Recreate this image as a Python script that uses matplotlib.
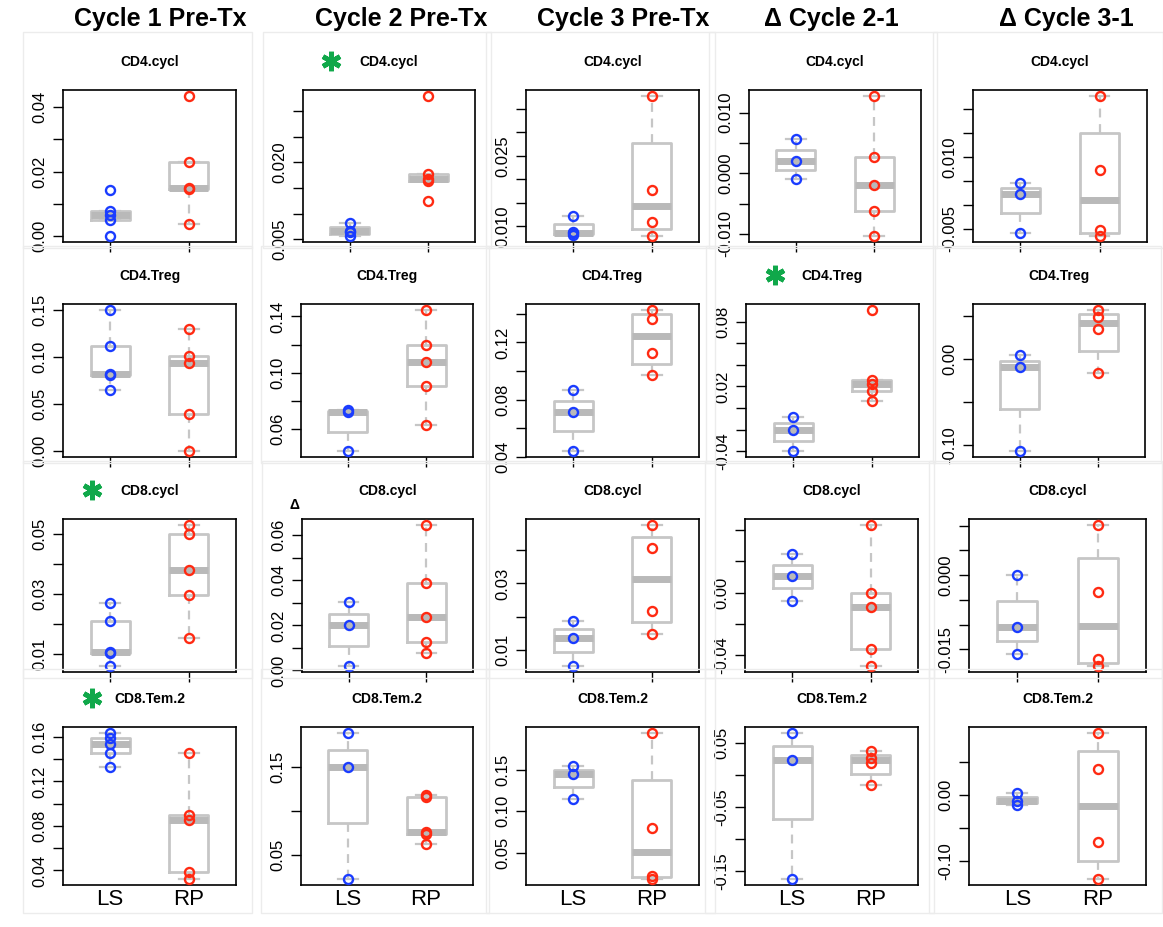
import numpy as np
import matplotlib
matplotlib.use("Agg")
import matplotlib.pyplot as plt
from matplotlib.lines import Line2D
from matplotlib.patches import Rectangle

plt.rcParams['font.family'] = ['Liberation Sans', 'DejaVu Sans']

# Datos: una lista por columna, una entrada por fila
COLUMNAS = ["Cycle 1 Pre-Tx", "Cycle 2 Pre-Tx", "Cycle 3 Pre-Tx", "Δ Cycle 2-1", "Δ Cycle 3-1"]
FILAS = ["CD4.cycl", "CD4.Treg", "CD8.cycl", "CD8.Tem.2"]
GRUPOS = ["LS", "RP"]

LS_C1 = [[0.0, 0.0051, 0.0066, 0.0077, 0.0142],
         [0.0649, 0.0806, 0.0819, 0.111, 0.150],
         [0.0059, 0.0102, 0.0107, 0.0209, 0.0271],
         [0.1333, 0.1453, 0.1536, 0.159, 0.1637]]
RP_C1 = [[0.0037, 0.0146, 0.0148, 0.023, 0.0435],
         [0.0, 0.040, 0.094, 0.101, 0.129],
         [0.0152, 0.0296, 0.038, 0.050, 0.053],
         [0.0322, 0.0386, 0.0855, 0.090, 0.1453]]

LS_C2 = [[0.0056, 0.0064, 0.0067, 0.0083],
         [0.0443, 0.0724, 0.0735],
         [0.0018, 0.020, 0.0302],
         [0.0226, 0.150, 0.189]]
RP_C2 = [[0.0124, 0.0164, 0.0168, 0.0177, 0.033],
         [0.0629, 0.0909, 0.108, 0.1196, 0.1448],
         [0.0075, 0.0126, 0.0239, 0.0388, 0.0647],
         [0.063, 0.074, 0.076, 0.116, 0.118]]

LS_C3 = [[0.0082, 0.0086, 0.0088, 0.0123],
         [0.0442, 0.0716, 0.0865],
         [0.0052, 0.0136, 0.0189],
         [0.115, 0.145, 0.155]]
RP_C3 = [[0.0079, 0.0109, 0.0177, 0.0378],
         [0.0976, 0.1128, 0.1364, 0.1429],
         [0.0148, 0.0219, 0.0405, 0.0476],
         [0.018, 0.022, 0.080, 0.195]]

LS_C4 = [[-0.0009, 0.0020, 0.0057],
         [-0.040, -0.020, -0.008],
         [-0.0051, 0.0108, 0.0248],
         [-0.163, 0.024, 0.066]]
RP_C4 = [[-0.0104, -0.0063, -0.0020, 0.0027, 0.0128],
         [0.007, 0.016, 0.0225, 0.026, 0.091],
         [-0.047, -0.0362, -0.0095, -0.0006, 0.0432],
         [-0.016, 0.019, 0.027, 0.037]]

LS_C5 = [[-0.0059, 0.0023, 0.0046],
         [-0.1078, -0.0093, 0.0047],
         [-0.016, -0.0104, 0.0],
         [-0.015, -0.009, 0.002]]
RP_C5 = [[-0.0066, -0.0053, 0.0074, 0.0229],
         [-0.0164, 0.0354, 0.0486, 0.0576],
         [-0.0184, -0.017, -0.0034, 0.0102],
         [-0.128, -0.072, 0.039, 0.094]]

# Marcas del eje y (etiqueta vacia = marca sin texto, como en R)
TICKS_C1 = [[0, 0.01, 0.02, 0.03, 0.04], [0, 0.05, 0.10, 0.15],
            [0.01, 0.02, 0.03, 0.04, 0.05], [0.04, 0.06, 0.08, 0.10, 0.12, 0.14, 0.16]]
LABELS_C1 = [["0.00", "", "0.02", "", "0.04"], ["0.00", "0.05", "0.10", "0.15"],
             ["0.01", "", "0.03", "", "0.05"], ["0.04", "", "0.08", "", "0.12", "", "0.16"]]
TICKS_C2 = [[0.005, 0.010, 0.015, 0.020, 0.025, 0.030], [0.06, 0.08, 0.10, 0.12, 0.14],
            [0, 0.01, 0.02, 0.03, 0.04, 0.05, 0.06], [0.05, 0.10, 0.15]]
LABELS_C2 = [["0.005", "", "", "0.020", "", ""], ["0.06", "", "0.10", "", "0.14"],
             ["0.00", "", "0.02", "", "0.04", "", "0.06"], ["0.05", "", "0.15"]]
TICKS_C3 = [[0.010, 0.015, 0.020, 0.025, 0.030, 0.035], [0.04, 0.06, 0.08, 0.10, 0.12, 0.14],
            [0.01, 0.02, 0.03, 0.04], [0.05, 0.10, 0.15]]
LABELS_C3 = [["0.010", "", "", "0.025", "", ""], ["0.04", "", "0.08", "", "0.12", ""],
             ["0.01", "", "0.03", ""], ["0.05", "0.10", "0.15"]]
TICKS_C4 = [[-0.010, -0.005, 0, 0.005, 0.010], [-0.04, -0.02, 0, 0.02, 0.04, 0.06, 0.08],
            [-0.04, -0.02, 0, 0.02, 0.04], [-0.15, -0.10, -0.05, 0, 0.05]]
LABELS_C4 = [["-0.010", "", "0.000", "", "0.010"], ["-0.04", "", "", "0.02", "", "", "0.08"],
             ["-0.04", "", "0.00", "", ""], ["-0.15", "", "-0.05", "", "0.05"]]
TICKS_C5 = [[-0.005, 0, 0.005, 0.010, 0.015, 0.020], [-0.10, -0.05, 0, 0.05],
            [-0.015, -0.010, -0.005, 0, 0.005, 0.010], [-0.10, -0.05, 0, 0.05]]
LABELS_C5 = [["-0.005", "", "", "0.010", "", ""], ["-0.10", "", "0.00", ""],
             ["-0.015", "", "", "0.000", "", ""], ["-0.10", "", "0.00", ""]]

# Paneles con asterisco verde (fila, columna)
SIGNIFICATIVOS = [(0, 1), (1, 3), (2, 0), (3, 0)]

LS_COLS = [LS_C1, LS_C2, LS_C3, LS_C4, LS_C5]
RP_COLS = [RP_C1, RP_C2, RP_C3, RP_C4, RP_C5]
TICK_COLS = [TICKS_C1, TICKS_C2, TICKS_C3, TICKS_C4, TICKS_C5]
LABEL_COLS = [LABELS_C1, LABELS_C2, LABELS_C3, LABELS_C4, LABELS_C5]

# Posicion de las cajas de ejes en pixeles (izq, der) y (arriba, abajo)
W, H = 1163, 927
X_EJES = [[(63, 236), (303, 475), (526, 699), (749, 921), (973, 1147)],
          [(63, 236), (301, 473), (526, 699), (746, 919), (973, 1145)],
          [(63, 236), (302, 473), (526, 699), (745, 918), (969, 1146)],
          [(63, 236), (301, 473), (526, 699), (745, 918), (969, 1146)]]
Y_EJES = [(90, 242), (304, 457), (519, 672), (727, 885)]
X_TITULOS = [160, 401, 623, 831, 1066]

GRIS = "#c6c6c6"
AZUL = "#1a3cff"
ROJO = "#ff2a12"
VERDE = "#10a84a"


def fivenum(x):
    # cuartiles de Tukey, igual que boxplot() de R
    x = np.sort(np.asarray(x, dtype=float))
    n = len(x)
    n4 = np.floor((n + 3) / 2) / 2
    d = np.array([1, n4, (n + 1) / 2, n + 1 - n4, n]) - 1
    return 0.5 * (x[np.floor(d).astype(int)] + x[np.ceil(d).astype(int)])


def stats_caja(x):
    x = np.asarray(x, dtype=float)
    f = fivenum(x)
    iqr = f[3] - f[1]
    dentro = x[(x >= f[1] - 1.5 * iqr) & (x <= f[3] + 1.5 * iqr)]
    return dict(med=f[2], q1=f[1], q3=f[3], whislo=dentro.min(), whishi=dentro.max(), fliers=[])


def px_a_fig(x0, x1, y0, y1):
    return [x0 / W, 1 - y1 / H, (x1 - x0) / W, (y1 - y0) / H]


fig = plt.figure(figsize=(W / 100, H / 100), dpi=100)

# Titulos de columna
for j, titulo in enumerate(COLUMNAS):
    fig.text(X_TITULOS[j] / W, 1 - 19 / H, titulo, ha="center", va="center",
             fontsize=18, fontweight="bold")

for i, fila in enumerate(FILAS):
    y0, y1 = Y_EJES[i]
    for j in range(5):
        x0, x1 = X_EJES[i][j]
        # marco gris claro de cada sub-imagen (la ultima fila baja hasta las etiquetas)
        extra = 28 if i == 3 else 6
        fig.add_artist(Rectangle(((x0 - 40) / W, 1 - (y1 + extra) / H), (x1 - x0 + 56) / W,
                                 (y1 - y0 + 58 + extra) / H, transform=fig.transFigure,
                                 fill=False, ec="#ececec", lw=1))
        ax = fig.add_axes(px_a_fig(x0, x1, y0, y1))
        ls = LS_COLS[j][i]
        rp = RP_COLS[j][i]

        ax.bxp([stats_caja(ls), stats_caja(rp)], positions=[1, 2], widths=0.5,
               showfliers=False, capwidths=0.25,
               boxprops=dict(color=GRIS, lw=2),
               medianprops=dict(color="#b9b9b9", lw=5, solid_capstyle="butt"),
               whiskerprops=dict(color=GRIS, lw=1.6, linestyle=(0, (4, 3))),
               capprops=dict(color=GRIS, lw=1.6))
        ax.plot(np.full(len(ls), 1), ls, "o", mfc="none", mec=AZUL, mew=1.7, ms=6.5, zorder=5)
        ax.plot(np.full(len(rp), 2), rp, "o", mfc="none", mec=ROJO, mew=1.7, ms=6.5, zorder=5)

        # rango como en R: datos +/- 4 %
        todos = np.concatenate([ls, rp])
        lo, hi = todos.min(), todos.max()
        pad = 0.04 * (hi - lo)
        ax.set_ylim(lo - pad, hi + pad)
        ax.set_xlim(0.4, 2.6)

        ax.set_yticks(TICK_COLS[j][i])
        ax.set_yticklabels(LABEL_COLS[j][i], rotation=90, va="center", fontsize=12)
        ax.set_xticks([1, 2])
        ax.tick_params(direction="out", length=7, width=1, pad=4)
        if i == 3:
            ax.set_xticklabels(GRUPOS, fontsize=16)
            ax.tick_params(axis="x", length=0, pad=3)
        else:
            ax.set_xticklabels(["", ""])
        for s in ax.spines.values():
            s.set_linewidth(1.2)

        # titulo del panel (con asterisco si es significativo)
        xc = (x0 + x1) / 2
        fig.text(xc / W, 1 - (y0 - 28) / H, fila, ha="center", va="center",
                 fontsize=10, fontweight="bold")
        if (i, j) in SIGNIFICATIVOS:
            fig.add_artist(Line2D([(xc - 58) / W], [1 - (y0 - 29) / H], marker=(6, 2, 0),
                                  ms=14, mew=3.5, color=VERDE, transform=fig.transFigure))

# pequeno delta suelto en el panel CD8.cycl del ciclo 2
fig.text(295 / W, 1 - 505 / H, "Δ", ha="center", va="center", fontsize=10, fontweight="bold")

fig.savefig("out.png", dpi=100, facecolor="white")
